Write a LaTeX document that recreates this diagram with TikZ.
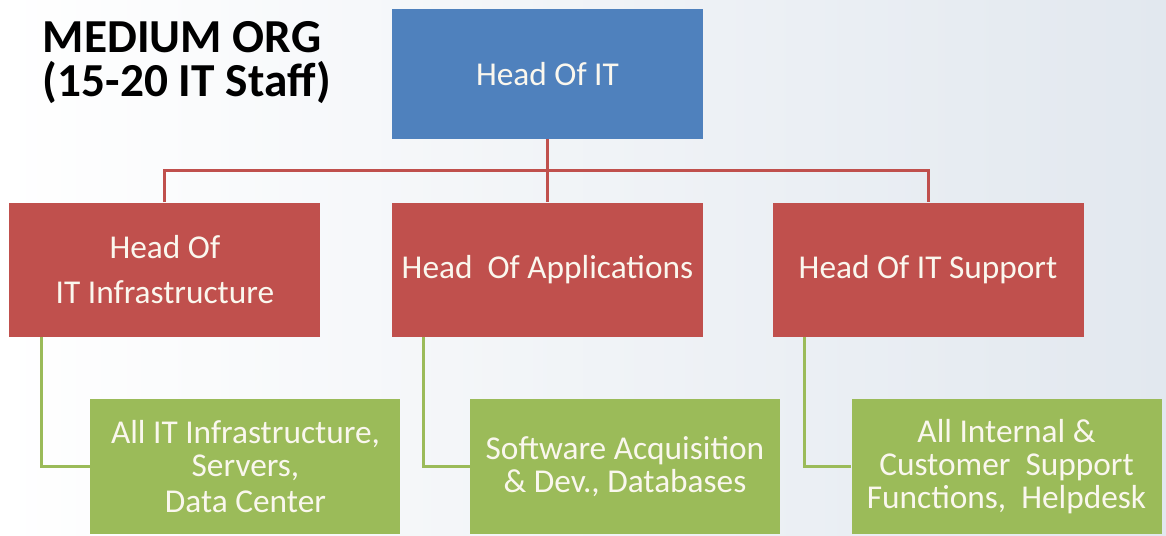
\documentclass[tikz,border=0pt]{standalone}
\usepackage{fontspec}
\setmainfont{Carlito}
\definecolor{HeadBlue}{RGB}{79, 129, 189}
\definecolor{LeadRed}{RGB}{192, 80, 77}
\definecolor{TeamGreen}{RGB}{155, 187, 89}
\definecolor{BoxText}{RGB}{250, 247, 238}
\definecolor{BgGrey}{RGB}{226, 232, 239}
\usetikzlibrary{arrows.meta, positioning, calc}

\begin{document}
\begin{tikzpicture}[
            node distance=47.25pt,
            box/.style={rectangle, inner sep=0pt, minimum width=233.25pt, minimum height=100.5pt,
                        align=center, text=BoxText, font=\fontsize{25}{24.5}\selectfont},
            headbox/.style={box, fill=HeadBlue, minimum height=97.5pt},
            leadbox/.style={box, fill=LeadRed},
            teambox/.style={box, fill=TeamGreen, minimum width=232.5pt, minimum height=101.25pt},
            link/.style={line width=2.25pt, LeadRed},
            sublink/.style={line width=2.25pt, TeamGreen}
        ]
            % Background
            \useasboundingbox (0,0) rectangle (874.5pt,-401.25pt);
            \shade[left color=white, right color=BgGrey] (0,0) rectangle (874.5pt,-401.25pt);

            % Title
            \node[anchor=north west, inner sep=0pt, align=left, font=\fontsize{35.5}{33}\selectfont\bfseries]
                (title) at (32pt,-16pt) {MEDIUM ORG\\(15-20 IT Staff)};

            % Row 1
            \node[headbox] (head) at (410.6pt,-55.5pt) {Head Of IT};

            % Row 2
            \node[leadbox, below=of head] (apps) {Head\ \ Of Applications};
            \node[leadbox, left=53.25pt of apps] (infra) {Head Of\\[9pt]IT Infrastructure};
            \node[leadbox, right=51.75pt of apps] (support) {Head Of IT Support};

            % Row 3
            \node[teambox, below=46.5pt of infra, xshift=60.4pt] (infraTeam)
                {All IT Infrastructure,\\Servers,\\[3pt]Data Center};
            \node[teambox, below=46.5pt of apps, xshift=58.1pt] (appsTeam)
                {Software Acquisition\\\& Dev., Databases};
            \node[teambox, below=46.5pt of support, xshift=58.9pt] (supportTeam)
                {All Internal \&\\Customer\ \ Support\\Functions,\ \ Helpdesk};

            % Lines
            \coordinate (bus) at ($(head.south)!0.5!(apps.north)$);
            \draw[link] (head.south) -- (apps.north);
            \draw[link] (infra.north) |- (bus) -| (support.north);
            \foreach \lead/\team in {infra/infraTeam, apps/appsTeam, support/supportTeam}
                \draw[sublink] ([xshift=24pt]\lead.south west) |- (\team.west);
        \end{tikzpicture}
\end{document}
